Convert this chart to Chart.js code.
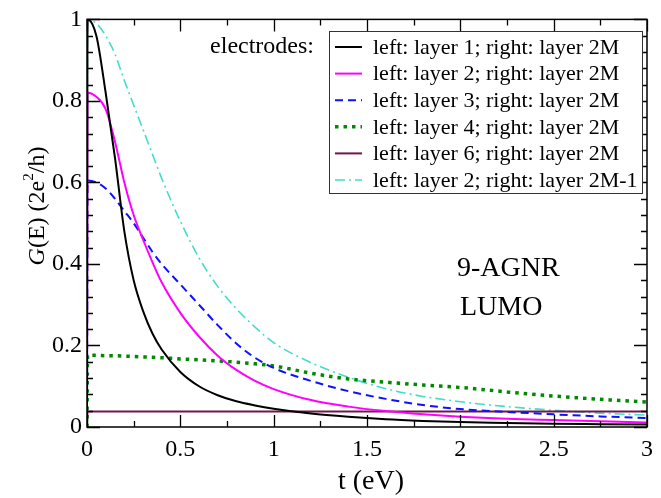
<!DOCTYPE html>
<html>
<head>
<meta charset="utf-8">
<script src="https://cdn.jsdelivr.net/npm/chart.js@4"></script>
<style>
  html, body { margin: 0; padding: 0; background: #fff; }
  canvas { display: block; }
</style>
</head>
<body>
<canvas id="conductance" width="661" height="498"></canvas>
<script>
// hopping t (eV), shared grid for every curve
const tValues = [0, 0.003, 0.05, 0.1, 0.15, 0.2, 0.25, 0.3, 0.35, 0.4, 0.5, 0.6, 0.7, 0.8, 0.9, 1.0, 1.2, 1.4, 1.6, 1.8, 2.0, 2.25, 2.5, 2.75, 3.0];

const layer1 = [0, 1.0, 0.96, 0.82, 0.66, 0.48, 0.36, 0.285, 0.23, 0.19, 0.135, 0.10, 0.078, 0.063, 0.053, 0.045, 0.033, 0.025, 0.019, 0.015, 0.012, 0.010, 0.008, 0.007, 0.006];
const layer2 = [0, 0.82, 0.81, 0.78, 0.70, 0.60, 0.52, 0.46, 0.405, 0.355, 0.28, 0.222, 0.175, 0.14, 0.113, 0.093, 0.066, 0.050, 0.039, 0.031, 0.025, 0.020, 0.017, 0.014, 0.011];
const layer3 = [0, 0.605, 0.60, 0.585, 0.56, 0.53, 0.50, 0.465, 0.43, 0.40, 0.35, 0.30, 0.25, 0.205, 0.17, 0.145, 0.113, 0.088, 0.069, 0.054, 0.044, 0.037, 0.031, 0.026, 0.022];
const layer4 = [0, 0.176, 0.176, 0.175, 0.175, 0.174, 0.173, 0.172, 0.171, 0.170, 0.167, 0.165, 0.162, 0.159, 0.155, 0.150, 0.132, 0.118, 0.110, 0.103, 0.097, 0.086, 0.076, 0.068, 0.061];
const layer6 = [0, 0.038, 0.038, 0.038, 0.038, 0.038, 0.038, 0.038, 0.038, 0.038, 0.038, 0.038, 0.038, 0.038, 0.038, 0.038, 0.038, 0.038, 0.038, 0.038, 0.038, 0.038, 0.038, 0.038, 0.038];
const layer2to2M1 = [0, 1.0, 0.99, 0.96, 0.915, 0.85, 0.79, 0.73, 0.67, 0.61, 0.505, 0.415, 0.345, 0.29, 0.245, 0.207, 0.158, 0.122, 0.094, 0.075, 0.062, 0.050, 0.041, 0.034, 0.029];

const seriesLabels = [
    'left: layer 1; right: layer 2M',
    'left: layer 2; right: layer 2M',
    'left: layer 3; right: layer 2M',
    'left: layer 4; right: layer 2M',
    'left: layer 6; right: layer 2M',
    'left: layer 2; right: layer 2M-1'
];
const xTicks = [0, 0.5, 1, 1.5, 2, 2.5, 3];
const yTicks = [0, 0.2, 0.4, 0.6, 0.8, 1];

const SERIF = '"Liberation Serif"';

function points(ys) {
    return tValues.map((t, i) => ({ x: t, y: ys[i] }));
}

function line(label, ys, color, dash, width) {
    return {
        label,
        data: points(ys),
        borderColor: color,
        backgroundColor: color,
        borderWidth: width,
        borderDash: dash,
        pointRadius: 0,
        cubicInterpolationMode: 'monotone',
        fill: false
    };
}

// inward ticks on all four sides + box
const frameTicks = {
    id: 'frameTicks',
    afterDatasetsDraw(chart) {
        const { ctx, chartArea: a, scales } = chart;
        ctx.save();
        ctx.strokeStyle = '#000';
        ctx.lineWidth = 1.3;
        ctx.setLineDash([]);
        ctx.beginPath();
        for (let v = 0; v <= 3.0001; v += 0.25) {
            const px = Math.round(scales.x.getPixelForValue(v)) + 0.5;
            const len = Math.abs(v / 0.5 - Math.round(v / 0.5)) < 1e-6 ? 12 : 6;
            ctx.moveTo(px, a.bottom); ctx.lineTo(px, a.bottom - len);
            ctx.moveTo(px, a.top); ctx.lineTo(px, a.top + len);
        }
        for (let v = 0; v <= 1.0001; v += 0.04) {
            const py = Math.round(scales.y.getPixelForValue(v)) + 0.5;
            const len = Math.abs(v / 0.2 - Math.round(v / 0.2)) < 1e-6 ? 13 : 6;
            ctx.moveTo(a.left, py); ctx.lineTo(a.left + len, py);
            ctx.moveTo(a.right, py); ctx.lineTo(a.right - len, py);
        }
        ctx.stroke();
        ctx.lineWidth = 1.5;
        ctx.strokeRect(a.left, a.top, a.right - a.left, a.bottom - a.top);
        ctx.restore();
    }
};

// legend box, annotation and axis titles
const extras = {
    id: 'extras',
    afterDraw(chart) {
        const ctx = chart.ctx;
        ctx.save();
        ctx.fillStyle = '#000';
        ctx.textBaseline = 'middle';

        // legend
        const bx = 329, by = 31, bw = 313, bh = 162;
        ctx.fillStyle = '#fff';
        ctx.fillRect(bx, by, bw, bh);
        ctx.strokeStyle = '#333';
        ctx.lineWidth = 1;
        ctx.strokeRect(bx + 0.5, by + 0.5, bw, bh);
        ctx.fillStyle = '#000';
        ctx.textAlign = 'right';
        ctx.font = '24px ' + SERIF;
        ctx.fillText('electrodes:', 314, 47);
        ctx.font = '22px ' + SERIF;
        ctx.textAlign = 'left';
        chart.data.datasets.forEach((ds, i) => {
            const y = 47 + i * 26.6;
            ctx.save();
            ctx.strokeStyle = ds.borderColor;
            ctx.lineWidth = ds.borderWidth;
            ctx.setLineDash(ds.borderDash || []);
            ctx.beginPath();
            ctx.moveTo(335, y);
            ctx.lineTo(362, y);
            ctx.stroke();
            ctx.restore();
            ctx.fillText(ds.label, 373, y + 1);
        });

        // annotation
        ctx.font = '28px ' + SERIF;
        ctx.textBaseline = 'alphabetic';
        ctx.fillText('9-AGNR', 457, 276);
        ctx.fillText('LUMO', 460, 315);

        // x title
        ctx.textAlign = 'center';
        ctx.fillText('t (eV)', 371, 489);

        // y title: G(E) (2e^2/h), G italic, rotated
        ctx.translate(44, 206);
        ctx.rotate(-Math.PI / 2);
        const parts = [
            { t: 'G', f: 'italic 24px ' + SERIF, dy: 0 },
            { t: '(E) (2e', f: '24px ' + SERIF, dy: 0 },
            { t: '2', f: '15px ' + SERIF, dy: -11 },
            { t: '/h)', f: '24px ' + SERIF, dy: 0 }
        ];
        let total = 0;
        parts.forEach(p => { ctx.font = p.f; p.w = ctx.measureText(p.t).width; total += p.w; });
        let x = -total / 2;
        ctx.textAlign = 'left';
        parts.forEach(p => {
            ctx.font = p.f;
            ctx.fillText(p.t, x, p.dy);
            x += p.w;
        });
        ctx.restore();
    }
};

new Chart(document.getElementById('conductance'), {
    type: 'line',
    data: {
        datasets: [
            line(seriesLabels[0], layer1, '#000000', [], 2),
            line(seriesLabels[1], layer2, '#ff00ff', [], 2),
            line(seriesLabels[2], layer3, '#1010ff', [8, 5], 2),
            line(seriesLabels[3], layer4, '#008a00', [3.5, 5], 3.5),
            line(seriesLabels[4], layer6, '#6e1848', [], 2),
            line(seriesLabels[5], layer2to2M1, '#44dccc', [10, 4, 2, 4], 1.6)
        ]
    },
    options: {
        responsive: false,
        animation: false,
        layout: { padding: { top: 13, right: 6, left: 0, bottom: 0 } },
        plugins: {
            legend: { display: false },
            tooltip: { enabled: false }
        },
        scales: {
            x: {
                type: 'linear',
                min: 0,
                max: 3,
                afterBuildTicks(scale) { scale.ticks = xTicks.map(v => ({ value: v })); },
                afterFit(scale) { scale.height = 71; },
                grid: { display: false, drawTicks: false },
                border: { display: false },
                ticks: {
                    color: '#000',
                    padding: 8,
                    maxRotation: 0,
                    font: { family: SERIF, size: 24 },
                    callback: v => String(v)
                }
            },
            y: {
                type: 'linear',
                min: 0,
                max: 1,
                afterBuildTicks(scale) { scale.ticks = yTicks.map(v => ({ value: v })); },
                afterFit(scale) { scale.width = 87; },
                grid: { display: false, drawTicks: false },
                border: { display: false },
                ticks: {
                    color: '#000',
                    padding: 5,
                    font: { family: SERIF, size: 24 },
                    callback: v => String(v)
                }
            }
        }
    },
    plugins: [frameTicks, extras]
});
</script>
</body>
</html>
